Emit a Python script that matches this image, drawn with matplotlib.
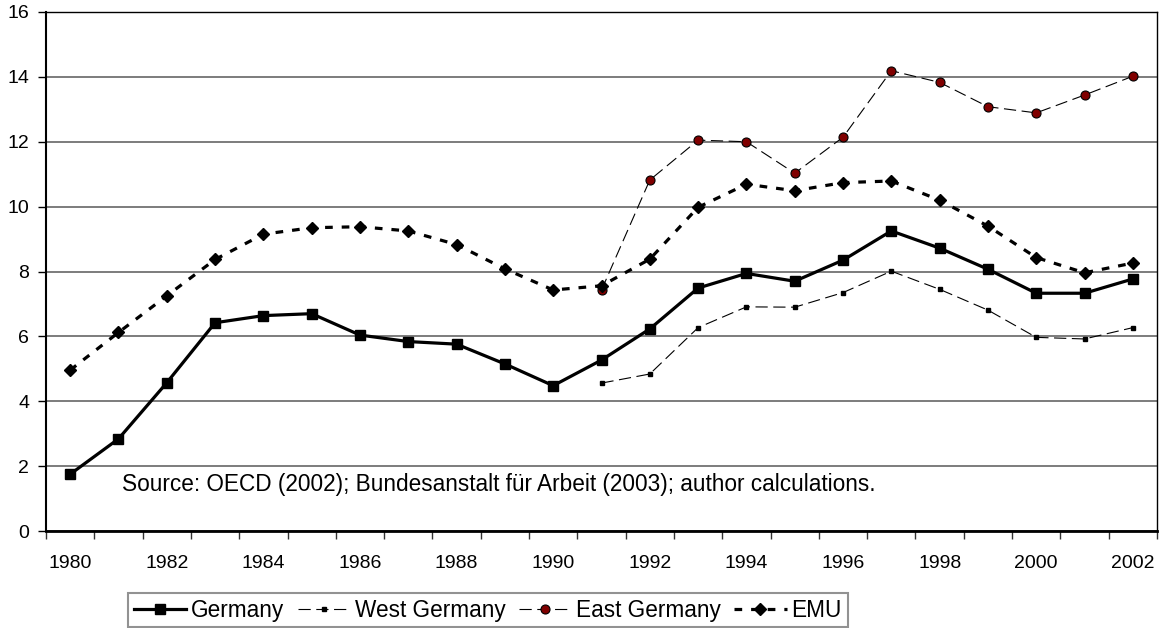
import matplotlib
matplotlib.use('Agg')
import matplotlib.pyplot as plt
from matplotlib.ticker import FixedLocator, NullFormatter

# Unemployment rates (%):
years = list(range(1980, 2003))
germany = [1.75, 2.84, 4.57, 6.42, 6.64, 6.70, 6.04, 5.84, 5.76, 5.15, 4.48,
           5.27, 6.23, 7.49, 7.94, 7.70, 8.35, 9.25, 8.72, 8.07, 7.33, 7.33, 7.77]
emu = [4.96, 6.12, 7.25, 8.37, 9.15, 9.35, 9.38, 9.25, 8.83, 8.08, 7.43,
       7.56, 8.38, 9.98, 10.69, 10.49, 10.74, 10.79, 10.20, 9.40, 8.43, 7.96, 8.26]
# West / East Germany only from 1991 on:
split_years = list(range(1991, 2003))
west = [4.56, 4.84, 6.27, 6.91, 6.90, 7.35, 8.01, 7.45, 6.81, 5.97, 5.92, 6.27]
east = [7.43, 10.82, 12.05, 12.00, 11.03, 12.14, 14.19, 13.83, 13.08, 12.89, 13.44, 14.02]

source = 'Source: OECD (2002); Bundesanstalt für Arbeit (2003); author calculations.'

plt.rcParams['font.family'] = ['Liberation Sans', 'DejaVu Sans']

W, H = 1160, 628
fig = plt.figure(figsize=(W / 100, H / 100), dpi=100)
ax = fig.add_axes([46 / W, (H - 531) / H, 1111 / W, 519 / H])

# Category positions (Excel-style axis):
pos = [y - years[0] for y in years]
split_pos = [y - years[0] for y in split_years]

ax.plot(pos, germany, color='black', lw=2.3, marker='s', ms=7.2, label='Germany', zorder=5)
ax.plot(split_pos, west, color='black', lw=0.8, dashes=(11, 5), marker='s', ms=3,
        label='West Germany', zorder=4)
ax.plot(split_pos, east, color='black', lw=0.8, dashes=(11, 5), marker='o', ms=6.5,
        mfc='#800000', mec='black', mew=0.8, label='East Germany', zorder=4)
ax.plot(pos, emu, color='black', lw=2.3, dashes=(2.4, 2.8), marker='D', ms=6,
        label='EMU', zorder=5)

# Axes & grid:
ax.set_xlim(-0.5, len(years) - 0.5)
ax.set_ylim(0, 16)
ax.set_yticks(range(0, 17, 2))
ax.yaxis.grid(True, color='#666666', lw=1.2)
ax.set_axisbelow(True)

ax.set_xticks([p for p, y in zip(pos, years) if y % 2 == 0])
ax.set_xticklabels([str(y) for y in years if y % 2 == 0])
ax.xaxis.set_minor_locator(FixedLocator([p - 0.5 for p in pos] + [pos[-1] + 0.5]))
ax.xaxis.set_minor_formatter(NullFormatter())
ax.tick_params(axis='x', which='major', length=0, pad=17, labelsize=14)
ax.tick_params(axis='x', which='minor', length=6, width=1.0, direction='out', color='#333333')
ax.tick_params(axis='y', length=6, width=1.0, direction='out', pad=6, labelsize=14)

for side in ['top', 'right']:
    ax.spines[side].set_linewidth(1.0)
ax.spines['left'].set_linewidth(1.5)
ax.spines['bottom'].set_linewidth(2.0)

ax.text((122 - 46) / 1111, (531 - 484) / 519, source, transform=ax.transAxes,
        fontsize=16.3, va='center', ha='left')

leg = fig.legend(loc='upper left', bbox_to_anchor=(128 / W, 1 - 593 / H), ncol=4,
                 frameon=True, fancybox=False, edgecolor='#777777', fontsize=16.3,
                 handlelength=2.3, handletextpad=0.22, columnspacing=0.6,
                 borderpad=0.25, borderaxespad=0)
leg.get_frame().set_linewidth(1.5)

fig.savefig('out.png', dpi=100)
